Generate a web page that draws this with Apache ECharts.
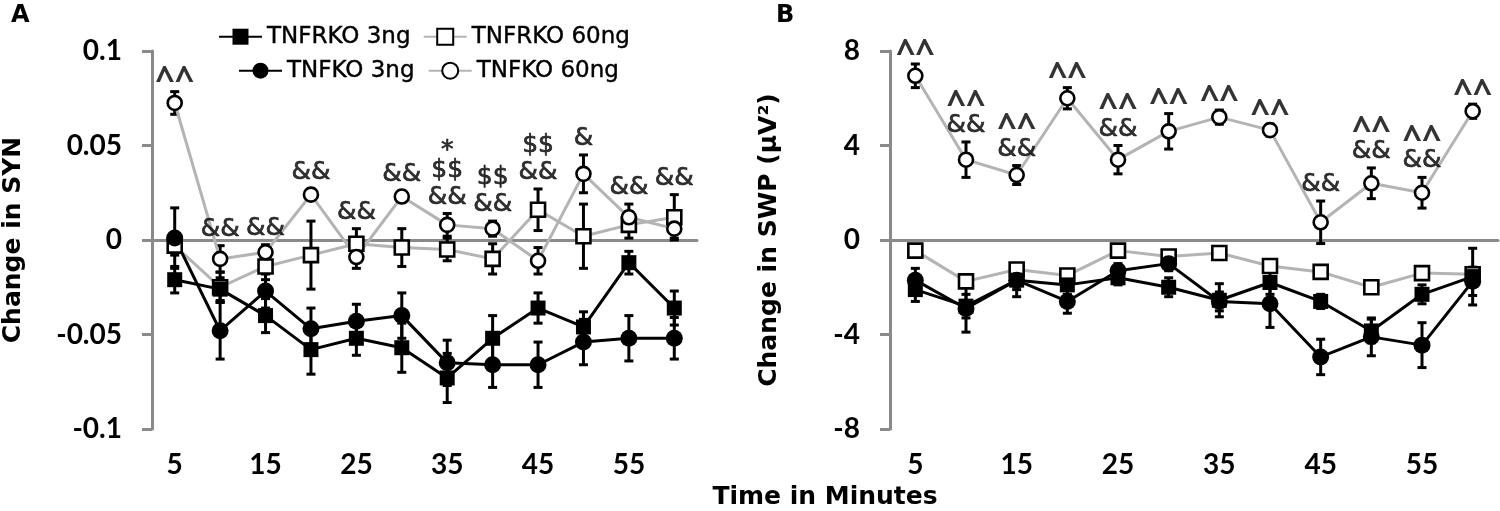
<!DOCTYPE html>
<html><head><meta charset="utf-8">
<script src="https://cdn.jsdelivr.net/npm/echarts@6/dist/echarts.min.js"></script>
<style>html,body{margin:0;padding:0;background:#fff}#c{width:1500px;height:511px}</style>
</head><body><div id="c"></div>
<script>
// ---------- data ----------
const minutes = ['5','10','15','20','25','30','35','40','45','50','55','60'];
const shownTickLabels = ['5','15','25','35','45','55'];
const seriesNames = ['TNFRKO 3ng','TNFRKO 60ng','TNFKO 3ng','TNFKO 60ng'];

// Panel A: Change in SYN
const synTNFRKO3     = [-0.021,-0.026,-0.040,-0.058,-0.052,-0.057,-0.073,-0.052,-0.036,-0.046,-0.012,-0.036];
const synTNFRKO3Err  = [0.007,0.006,0.009,0.013,0.009,0.013,0.013,0.012,0.008,0.008,0.006,0.009];
const synTNFKO3      = [0.001,-0.048,-0.027,-0.047,-0.043,-0.040,-0.065,-0.066,-0.066,-0.054,-0.052,-0.052];
const synTNFKO3Err   = [0.016,0.015,0.009,0.011,0.009,0.012,0.012,0.012,0.012,0.012,0.012,0.011];
const synTNFRKO60    = [-0.003,-0.025,-0.014,-0.008,-0.002,-0.004,-0.005,-0.010,0.016,0.002,0.008,0.012];
const synTNFRKO60Err = [0.005,0.008,0.007,0.018,0.008,0.010,0.006,0.008,0.011,0.017,0.007,0.012];
const synTNFKO60     = [0.0725,-0.010,-0.0065,0.024,-0.009,0.023,0.008,0.006,-0.011,0.035,0.012,0.006];
const synTNFKO60Err  = [0.006,0.007,0.004,0.003,0.006,0.003,0.006,0.004,0.007,0.010,0.007,0.005];
const synAnnot = ['^^','&&','&&','&&','&&','&&','*\n$$\n&&','$$\n&&','$$\n&&','&','&&','&&'];

// Panel B: Change in SWP (µV²)
const swpTNFRKO3     = [-2.1,-2.8,-1.7,-1.9,-1.6,-2.0,-2.55,-1.8,-2.6,-3.85,-2.3,-1.55];
const swpTNFRKO3Err  = [0.5,0.5,0.4,0.4,0.3,0.4,0.7,0.5,0.3,0.5,0.4,1.2];
const swpTNFKO3      = [-1.7,-2.9,-1.7,-2.6,-1.3,-1.0,-2.6,-2.7,-4.95,-4.1,-4.45,-1.75];
const swpTNFKO3Err   = [0.5,1.0,0.7,0.5,0.3,0.3,0.4,1.0,0.75,0.8,0.95,0.6];
const swpTNFRKO60    = [-0.45,-1.75,-1.25,-1.5,-0.45,-0.7,-0.55,-1.1,-1.35,-2.0,-1.4,-1.45];
const swpTNFRKO60Err = [0.25,0.2,0.2,0.2,0.2,0.2,0.2,0.2,0.15,0.15,0.2,0.2];
const swpTNFKO60     = [6.95,3.4,2.75,6.0,3.4,4.6,5.2,4.65,0.75,2.4,2.0,5.45];
const swpTNFKO60Err  = [0.5,0.75,0.4,0.45,0.6,0.75,0.3,0.25,0.9,0.65,0.65,0.3];
const swpAnnot = ['^^','^^\n&&','^^\n&&','^^','^^\n&&','^^','^^','^^','&&','^^\n&&','^^\n&&','^^'];

// ---------- styling ----------
const TXT = 'DejaVu Sans';
const TICKF = 'Lato';
const AXIS_GRAY = '#8a8a8a';
const LINE_GRAY = '#b4b4b4';

const styles = {
  'TNFRKO 3ng':  {symbol:'rect',   size:15, fill:'#000', line:'#000'},
  'TNFKO 3ng':   {symbol:'circle', size:17, fill:'#000', line:'#000'},
  'TNFRKO 60ng': {symbol:'rect',   size:14, fill:'#fff', line:LINE_GRAY},
  'TNFKO 60ng':  {symbol:'circle', size:14, fill:'#fff', line:LINE_GRAY}
};

function lineSeries(name, vals, xi, yi){
  const s = styles[name];
  return {
    type:'line', name, xAxisIndex:xi, yAxisIndex:yi, data:vals,
    symbol:s.symbol, symbolSize:s.size, z:3,
    lineStyle:{color:s.line, width:3},
    itemStyle:{color:s.fill, borderColor:'#000', borderWidth: s.fill === '#fff' ? 2.6 : 0},
    emphasis:{disabled:true}, animation:false
  };
}
function errRender(params, api){
  const i = api.value(0), v = api.value(1), e = api.value(2);
  const hi = api.coord([i, v + e]), lo = api.coord([i, v - e]);
  const cw = 4.5, st = {stroke:'#000', lineWidth:3};
  return {type:'group', children:[
    {type:'line', shape:{x1:hi[0], y1:hi[1], x2:lo[0], y2:lo[1]}, style:st},
    {type:'line', shape:{x1:hi[0]-cw, y1:hi[1], x2:hi[0]+cw, y2:hi[1]}, style:st},
    {type:'line', shape:{x1:lo[0]-cw, y1:lo[1], x2:lo[0]+cw, y2:lo[1]}, style:st}
  ]};
}
function errSeries(vals, errs, xi, yi){
  return {type:'custom', xAxisIndex:xi, yAxisIndex:yi, z:2, silent:true, animation:false,
    renderItem:errRender, encode:{x:0, y:1},
    data: vals.map((v,i)=>[i, v, errs[i]])};
}
function annotSeries(annots, groups, xi, yi){
  const anchors = annots.map((a,i)=>Math.max(...groups.map(g=>g[0][i] + g[1][i])));
  return {type:'scatter', xAxisIndex:xi, yAxisIndex:yi, symbolSize:0, silent:true, z:5, animation:false,
    data: anchors.map((y,i)=>[i, y, annots[i]]),
    label:{show:true, position:'top', distance:3, color:'#000',
      formatter:p=>p.data[2].split('\n').map(l => (l[0]==='^' ? '{c|'+l+'}' : (l[0]==='*' ? '{s|'+l+'}' : '{a|'+l+'}'))).join('\n'),
      rich:{
        a:{fontFamily:TXT, fontSize:25, lineHeight:27, color:'#000', textBorderColor:'#000', textBorderWidth:0.7},
        c:{fontFamily:'Open Sans', fontSize:34, fontWeight:'bold', lineHeight:14, color:'#000'},
        s:{fontFamily:TXT, fontSize:25, lineHeight:12, color:'#000', textBorderColor:'#000', textBorderWidth:0.7}
      }}};
}

const gridA = {left:143, top:51, width:554, height:378};
const gridB = {left:890, top:51, width:608, height:378};

function xAxes(gi){
  return [
    {gridIndex:gi, type:'category', data:minutes, position:'bottom',
     axisLine:{show:false, onZero:false}, axisTick:{show:false},
     axisLabel:{interval:0, margin:22, fontFamily:TICKF, fontWeight:'bold', fontSize:28, color:'#000',
       formatter:v => shownTickLabels.includes(v) ? v : ''}},
    {gridIndex:gi, type:'category', data:minutes, position:'bottom',
     axisLine:{show:true, onZero:true, lineStyle:{color:AXIS_GRAY, width:3}},
     axisTick:{show:false}, axisLabel:{show:false}}
  ];
}
function yAxis(gi, min, max, interval, name, nameGap){
  return {gridIndex:gi, type:'value', min, max, interval,
    axisLine:{show:true, lineStyle:{color:AXIS_GRAY, width:3}},
    axisTick:{show:true, length:10, lineStyle:{color:AXIS_GRAY, width:3}},
    splitLine:{show:false},
    axisLabel:{margin:30, fontFamily:TICKF, fontWeight:'bold', fontSize:28, color:'#000'},
    name, nameLocation:'middle', nameGap, nameRotate:90,
    nameTextStyle:{fontFamily:TXT, fontWeight:'bold', fontSize:25, color:'#000'}};
}

const option = {
  animation:false,
  backgroundColor:'#fff',
  grid:[gridA, gridB],
  xAxis:[...xAxes(0), ...xAxes(1)],
  yAxis:[yAxis(0,-0.1,0.1,0.05,'Change in SYN',126), yAxis(1,-8,8,4,'Change in SWP (μV²)',108)],
  legend:[
    {data:['TNFRKO 3ng','TNFRKO 60ng'], left:213, top:20, itemWidth:43, itemHeight:20, itemGap:12,
     selectedMode:false, textStyle:{fontFamily:TXT, fontSize:23, color:'#000', textBorderColor:'#000', textBorderWidth:0.4}},
    {data:['TNFKO 3ng','TNFKO 60ng'], left:233, top:54, itemWidth:43, itemHeight:20, itemGap:13,
     selectedMode:false, textStyle:{fontFamily:TXT, fontSize:23, color:'#000', textBorderColor:'#000', textBorderWidth:0.4}}
  ],
  graphic:[
    {type:'text', left:11, top:4, style:{text:'A', font:'bold 24px "DejaVu Sans"', fill:'#000'}},
    {type:'text', left:776, top:4, style:{text:'B', font:'bold 24px "DejaVu Sans"', fill:'#000'}},
    {type:'text', x:825, y:497, style:{text:'Time in Minutes', font:'bold 25px "DejaVu Sans"', fill:'#000', align:'center', verticalAlign:'middle'}}
  ],
  series:[
    errSeries(synTNFRKO60, synTNFRKO60Err, 1, 0),
    errSeries(synTNFKO60, synTNFKO60Err, 1, 0),
    errSeries(synTNFRKO3, synTNFRKO3Err, 1, 0),
    errSeries(synTNFKO3, synTNFKO3Err, 1, 0),
    lineSeries('TNFRKO 60ng', synTNFRKO60, 1, 0),
    lineSeries('TNFKO 60ng', synTNFKO60, 1, 0),
    lineSeries('TNFRKO 3ng', synTNFRKO3, 1, 0),
    lineSeries('TNFKO 3ng', synTNFKO3, 1, 0),
    annotSeries(synAnnot, [[synTNFRKO3,synTNFRKO3Err],[synTNFKO3,synTNFKO3Err],[synTNFRKO60,synTNFRKO60Err],[synTNFKO60,synTNFKO60Err]], 1, 0),

    errSeries(swpTNFRKO60, swpTNFRKO60Err, 3, 1),
    errSeries(swpTNFKO60, swpTNFKO60Err, 3, 1),
    errSeries(swpTNFRKO3, swpTNFRKO3Err, 3, 1),
    errSeries(swpTNFKO3, swpTNFKO3Err, 3, 1),
    lineSeries('TNFRKO 60ng', swpTNFRKO60, 3, 1),
    lineSeries('TNFKO 60ng', swpTNFKO60, 3, 1),
    lineSeries('TNFRKO 3ng', swpTNFRKO3, 3, 1),
    lineSeries('TNFKO 3ng', swpTNFKO3, 3, 1),
    annotSeries(swpAnnot, [[swpTNFRKO3,swpTNFRKO3Err],[swpTNFKO3,swpTNFKO3Err],[swpTNFRKO60,swpTNFRKO60Err],[swpTNFKO60,swpTNFKO60Err]], 3, 1)
  ]
};
const chart = echarts.init(document.getElementById('c'), null, {renderer:'canvas'});
chart.setOption(option);
</script></body></html>
